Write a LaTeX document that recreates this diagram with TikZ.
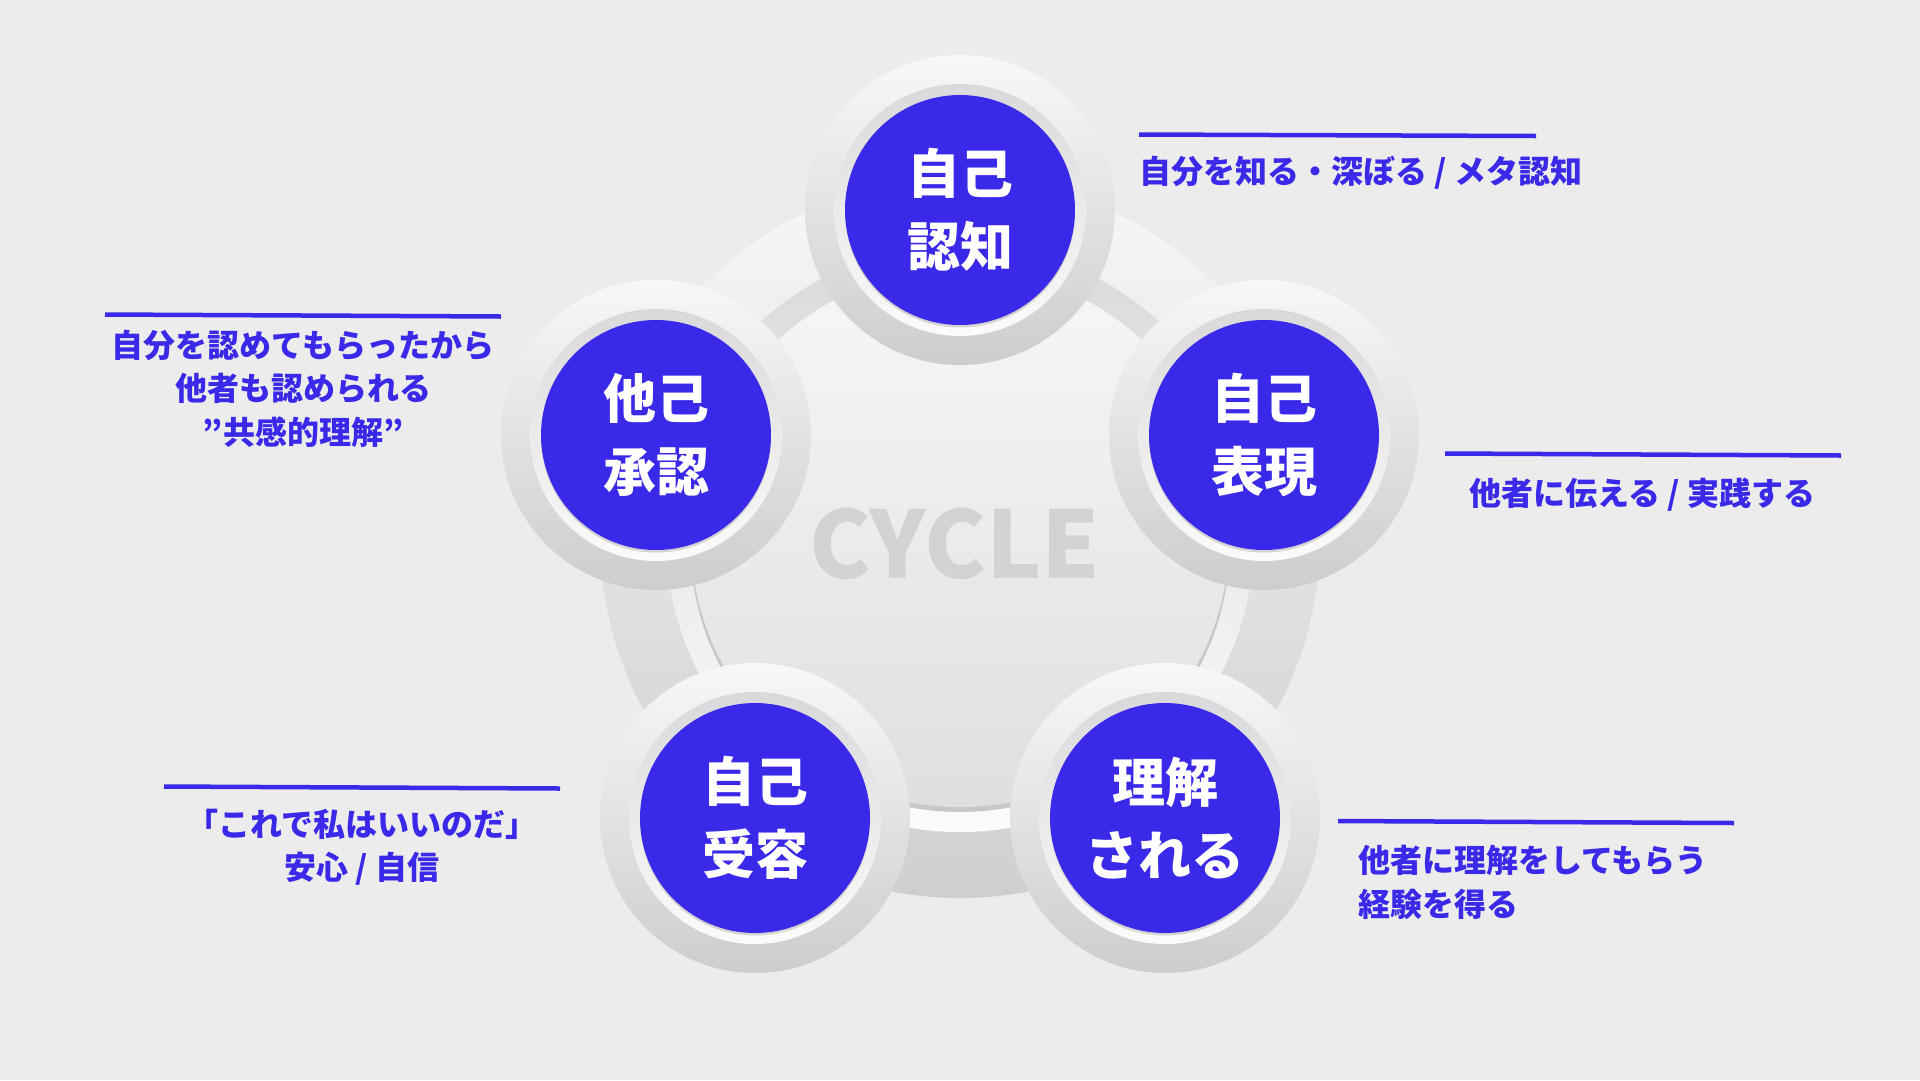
\documentclass[tikz,border=0pt]{standalone}
\usepackage{fontspec}
\setmainfont{Noto Sans CJK JP}
\usetikzlibrary{calc}
\definecolor{cblue}{RGB}{58,41,232}
\definecolor{bgc}{HTML}{ECECEC}
\definecolor{cyclegrey}{HTML}{D3D3D3}
\definecolor{bigtop}{RGB}{247,247,247}
\definecolor{bigbot}{RGB}{207,207,207}
\definecolor{ringtop}{RGB}{218,218,220}
\definecolor{ringbot}{RGB}{251,251,251}
\definecolor{innshadow}{RGB}{200,200,200}
\definecolor{inntop}{RGB}{247,247,247}
\definecolor{innbot}{RGB}{223,223,225}
\definecolor{bubtop}{RGB}{248,248,248}
\definecolor{bubbot}{RGB}{205,205,205}
\definecolor{bringtop}{RGB}{217,217,219}
\definecolor{bringbot}{RGB}{251,251,251}
\tikzset{
  bubbletext/.style={text=white, font=\fontsize{53}{73}\selectfont\bfseries, align=center},
  note/.style={text=cblue, font=\fontsize{32}{43.5}\selectfont\bfseries, inner sep=0pt},
  noteline/.style={draw=cblue, line width=4.5pt},
}
\newcommand{\mybubble}[3]{%
  \shade[top color=bubtop, bottom color=bubbot] (#2) circle (155pt);
  \shade[top color=bringtop, bottom color=bringbot] (#2) circle (126pt);
  \fill[black!35, opacity=.45] ($(#2)+(0,2.5)$) circle (115pt);
  \node[circle, fill=cblue, minimum size=230pt, inner sep=0pt, bubbletext] (#1) at (#2) {#3};
}
\begin{document}
\begin{tikzpicture}[x=1pt,y=-1pt]
  % background
  \fill[bgc] (0,0) rectangle (1920,1080);
  \useasboundingbox (0,0) rectangle (1920,1080);

  % central disc
  \shade[top color=bigtop, bottom color=bigbot] (960,538) circle (360pt);
  \shade[top color=ringtop, bottom color=ringbot] (960,538) circle (294pt);
  \fill[innshadow] (960,542) circle (270pt);
  \shade[top color=inntop, bottom color=innbot] (960,538) circle (269pt);

  \node[text=cyclegrey, font=\fontsize{93}{93}\selectfont\bfseries, inner sep=0pt] (cyc) at (955,543.5) {CYCLE};

  % bubbles
  \mybubble{b1}{960,210}{自己\\認知}
  \mybubble{b2}{1264,435}{自己\\表現}
  \mybubble{b3}{1165,818}{理解\\される}
  \mybubble{b4}{755,818}{自己\\受容}
  \mybubble{b5}{656,435}{他己\\承認}

  % notes
  \draw[noteline] (1139,134.5) -- (1536,136);
  \node[note, anchor=west] (t1) at (1139,173) {自分を知る・深ぼる / メタ認知};

  \draw[noteline] (1445,453.5) -- (1841,455.5);
  \node[note] (t2) at (1642,495) {他者に伝える / 実践する};

  \draw[noteline] (1338,821) -- (1734,823);
  \node[note, align=left, anchor=west] (t3) at (1358,882.5) {他者に理解をしてもらう\\経験を得る};

  \draw[noteline] (164,786.5) -- (560,788.5);
  \node[note, align=center] (t4) at (362,847) {「これで私はいいのだ」\\安心 / 自信};

  \draw[noteline] (105,314.5) -- (501,316.5);
  \node[note, align=center] (t5) at (303,388.5) {自分を認めてもらったから\\他者も認められる\\”共感的理解”};
\end{tikzpicture}
\end{document}
